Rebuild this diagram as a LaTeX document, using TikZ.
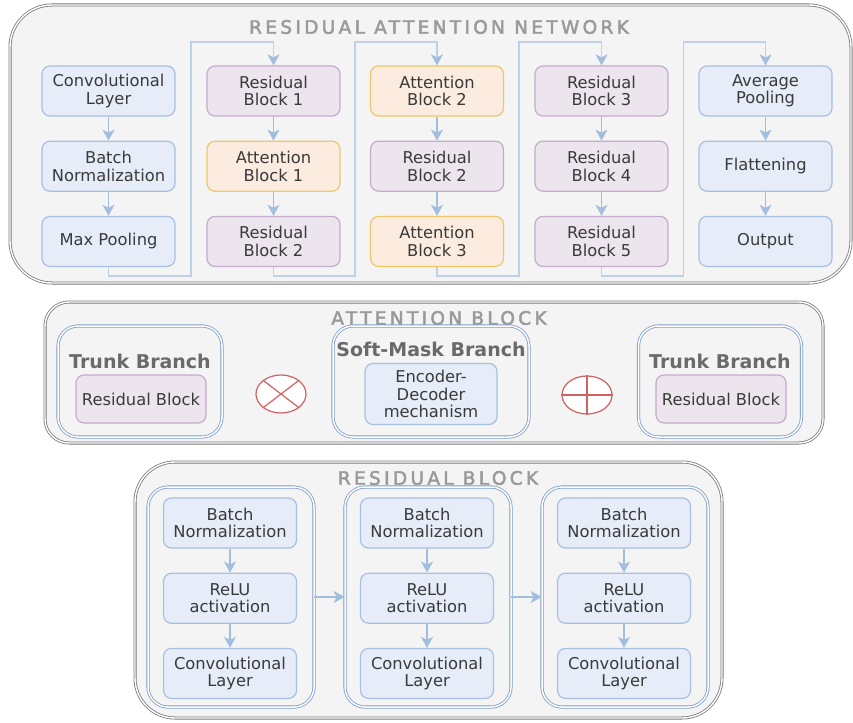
\documentclass[tikz,border=0pt]{standalone}
\usepackage{fontspec}
\setmainfont{DejaVu Sans}
\newfontfamily\titlefont[LetterSpace=18,FakeBold=2.5]{DejaVu Sans}
\usetikzlibrary{arrows.meta,positioning,calc,shapes.geometric}

\definecolor{panelfill}{HTML}{F4F4F4}
\definecolor{paneldraw}{HTML}{7A7A7A}
\definecolor{titlegray}{HTML}{9A9A9A}
\definecolor{headgray}{HTML}{6A6A6A}
\definecolor{textdark}{HTML}{3A3A3A}
\definecolor{bluefill}{HTML}{E6EDF8}
\definecolor{bluedraw}{HTML}{A7C0E1}
\definecolor{branchdraw}{HTML}{7C9DCC}
\definecolor{purplefill}{HTML}{ECE5EE}
\definecolor{purpledraw}{HTML}{C5ABCB}
\definecolor{orangefill}{HTML}{FBECDF}
\definecolor{orangedraw}{HTML}{EFC66A}
\definecolor{linkblue}{HTML}{A3BDDF}
\definecolor{opred}{HTML}{D06262}

\tikzset{
	panel/.style={draw=paneldraw, double=white, double distance=1.4pt, line width=0.8pt, fill=panelfill},
	paneltitle/.style={text=titlegray, font=\titlefont\fontsize{18.5}{20}\selectfont},
	branchhead/.style={text=headgray, font=\bfseries\fontsize{19}{21}\selectfont},
	layer/.style={rounded corners=8pt, minimum width=133pt, minimum height=50pt, line width=1.2pt,
		align=center, text=textdark, font=\fontsize{16.3}{17.5}\selectfont},
	bluebox/.style={layer, draw=bluedraw, fill=bluefill},
	purplebox/.style={layer, draw=purpledraw, fill=purplefill},
	orangebox/.style={layer, draw=orangedraw, fill=orangefill},
	branchbox/.style={rounded corners=20pt, draw=branchdraw, double=white, double distance=1.5pt, line width=0.8pt},
	flow/.style={draw=linkblue, line width=1.6pt, -{Stealth[length=11pt, width=12pt, inset=3pt]}},
	link/.style={draw=linkblue!70, line width=1.6pt, -{Stealth[length=11pt, width=12pt, inset=3pt, color=linkblue]}},
	opnode/.style={ellipse, draw=opred, fill=white, line width=1.2pt, minimum width=50pt, minimum height=38pt},
}

\begin{document}
\begin{tikzpicture}[x=1pt, y=-1pt]
	\useasboundingbox (0,0) rectangle (853,722);

	% residual attention network
	\draw[panel, rounded corners=42pt] (10,5) rectangle (851,283);
	\node[paneltitle] (nettitle) at (439,27) {RESIDUAL ATTENTION NETWORK};

	\node[bluebox] (conv) at (108.5,91) {Convolutional\\Layer};
	\node[bluebox, below=24pt of conv] (bn) {Batch\\Normalization};
	\node[bluebox, below=24pt of bn] (maxp) {Max Pooling};

	\node[purplebox] (res1) at (273.5,91) {Residual\\Block 1};
	\node[orangebox, below=24pt of res1] (att1) {Attention\\Block 1};
	\node[purplebox, below=24pt of att1] (res2) {Residual\\Block 2};

	\node[orangebox] (att2) at (437,91) {Attention\\Block 2};
	\node[purplebox, below=24pt of att2] (res2b) {Residual\\Block 2};
	\node[orangebox, below=24pt of res2b] (att3) {Attention\\Block 3};

	\node[purplebox] (res3) at (601.5,91) {Residual\\Block 3};
	\node[purplebox, below=24pt of res3] (res4) {Residual\\Block 4};
	\node[purplebox, below=24pt of res4] (res5) {Residual\\Block 5};

	\node[bluebox] (avgp) at (765.5,91) {Average\\Pooling};
	\node[bluebox, below=24pt of avgp] (flat) {Flattening};
	\node[bluebox, below=24pt of flat] (out) {Output};

	\draw[flow] (conv) -- (bn);
	\draw[flow] (bn) -- (maxp);
	\draw[flow] (res1) -- (att1);
	\draw[flow] (att1) -- (res2);
	\draw[flow] (att2) -- (res2b);
	\draw[flow] (res2b) -- (att3);
	\draw[flow] (res3) -- (res4);
	\draw[flow] (res4) -- (res5);
	\draw[flow] (avgp) -- (flat);
	\draw[flow] (flat) -- (out);

	\coordinate (low) at (0,276);
	\coordinate (high) at (0,42);
	\coordinate (gap1) at ($(maxp.east)!0.5!(res2.west)$);
	\coordinate (gap2) at ($(res2.east)!0.5!(att3.west)$);
	\coordinate (gap3) at ($(att3.east)!0.5!(res5.west)$);
	\coordinate (gap4) at ($(res5.east)!0.5!(out.west)$);
	\draw[link] (maxp.south) -- (maxp.south |- low) -| (gap1 |- high) -| (res1.north);
	\draw[link] (res2.south) -- (res2.south |- low) -| (gap2 |- high) -| (att2.north);
	\draw[link] (att3.south) -- (att3.south |- low) -| (gap3 |- high) -| (res3.north);
	\draw[link] (res5.south) -- (res5.south |- low) -| (gap4 |- high) -| (avgp.north);

	% attention block
	\draw[panel, rounded corners=24pt] (45,302) rectangle (823,443);
	\node[paneltitle] (atttitle) at (439,318) {ATTENTION BLOCK};

	\node[branchbox, minimum width=164pt, minimum height=111pt] (trunkl) at (140,381.5) {};
	\node[branchhead] (trunkltitle) at (140,361) {Trunk Branch};
	\node[purplebox, minimum width=130pt, minimum height=48pt] (trunklres) at (141,399) {Residual Block};

	\node[branchbox, minimum width=196pt, minimum height=111pt] (soft) at (431,381.5) {};
	\node[branchhead] (softtitle) at (431,349) {Soft-Mask Branch};
	\node[bluebox, minimum width=132pt, minimum height=61pt] (encdec) at (431,394) {Encoder-\\Decoder\\mechanism};

	\node[branchbox, minimum width=163pt, minimum height=111pt] (trunkr) at (720,381.5) {};
	\node[branchhead] (trunkrtitle) at (720,361) {Trunk Branch};
	\node[purplebox, minimum width=130pt, minimum height=48pt] (trunkrres) at (721,399) {Residual Block};

	\node[opnode] (mul) at (281,394) {};
	\draw[opred, line width=1.2pt] (mul.north west) -- (mul.south east);
	\draw[opred, line width=1.2pt] (mul.north east) -- (mul.south west);
	\node[opnode] (add) at (587,395) {};
	\draw[opred, line width=1.2pt] (add.north) -- (add.south);
	\draw[opred, line width=1.2pt] (add.west) -- (add.east);

	% residual block
	\draw[panel, rounded corners=40pt] (135,462) rectangle (722,718);
	\node[paneltitle] (restitle) at (438,478) {RESIDUAL BLOCK};

	\node[branchbox, minimum width=166pt, minimum height=220pt] (stage1) at (231,597) {};
	\node[bluebox] (bn1) at (230,523) {Batch\\Normalization};
	\node[bluebox, below=24pt of bn1] (relu1) {ReLU\\activation};
	\node[bluebox, below=24pt of relu1] (conv1) {Convolutional\\Layer};

	\node[branchbox, minimum width=166pt, minimum height=220pt] (stage2) at (428,597) {};
	\node[bluebox] (bn2) at (427,523) {Batch\\Normalization};
	\node[bluebox, below=24pt of bn2] (relu2) {ReLU\\activation};
	\node[bluebox, below=24pt of relu2] (conv2) {Convolutional\\Layer};

	\node[branchbox, minimum width=166pt, minimum height=220pt] (stage3) at (625,597) {};
	\node[bluebox] (bn3) at (624,523) {Batch\\Normalization};
	\node[bluebox, below=24pt of bn3] (relu3) {ReLU\\activation};
	\node[bluebox, below=24pt of relu3] (conv3) {Convolutional\\Layer};

	\draw[flow] (bn1) -- (relu1);
	\draw[flow] (relu1) -- (conv1);
	\draw[flow] (bn2) -- (relu2);
	\draw[flow] (relu2) -- (conv2);
	\draw[flow] (bn3) -- (relu3);
	\draw[flow] (relu3) -- (conv3);
	\draw[flow] (stage1) -- (stage2);
	\draw[flow] (stage2) -- (stage3);
\end{tikzpicture}
\end{document}
